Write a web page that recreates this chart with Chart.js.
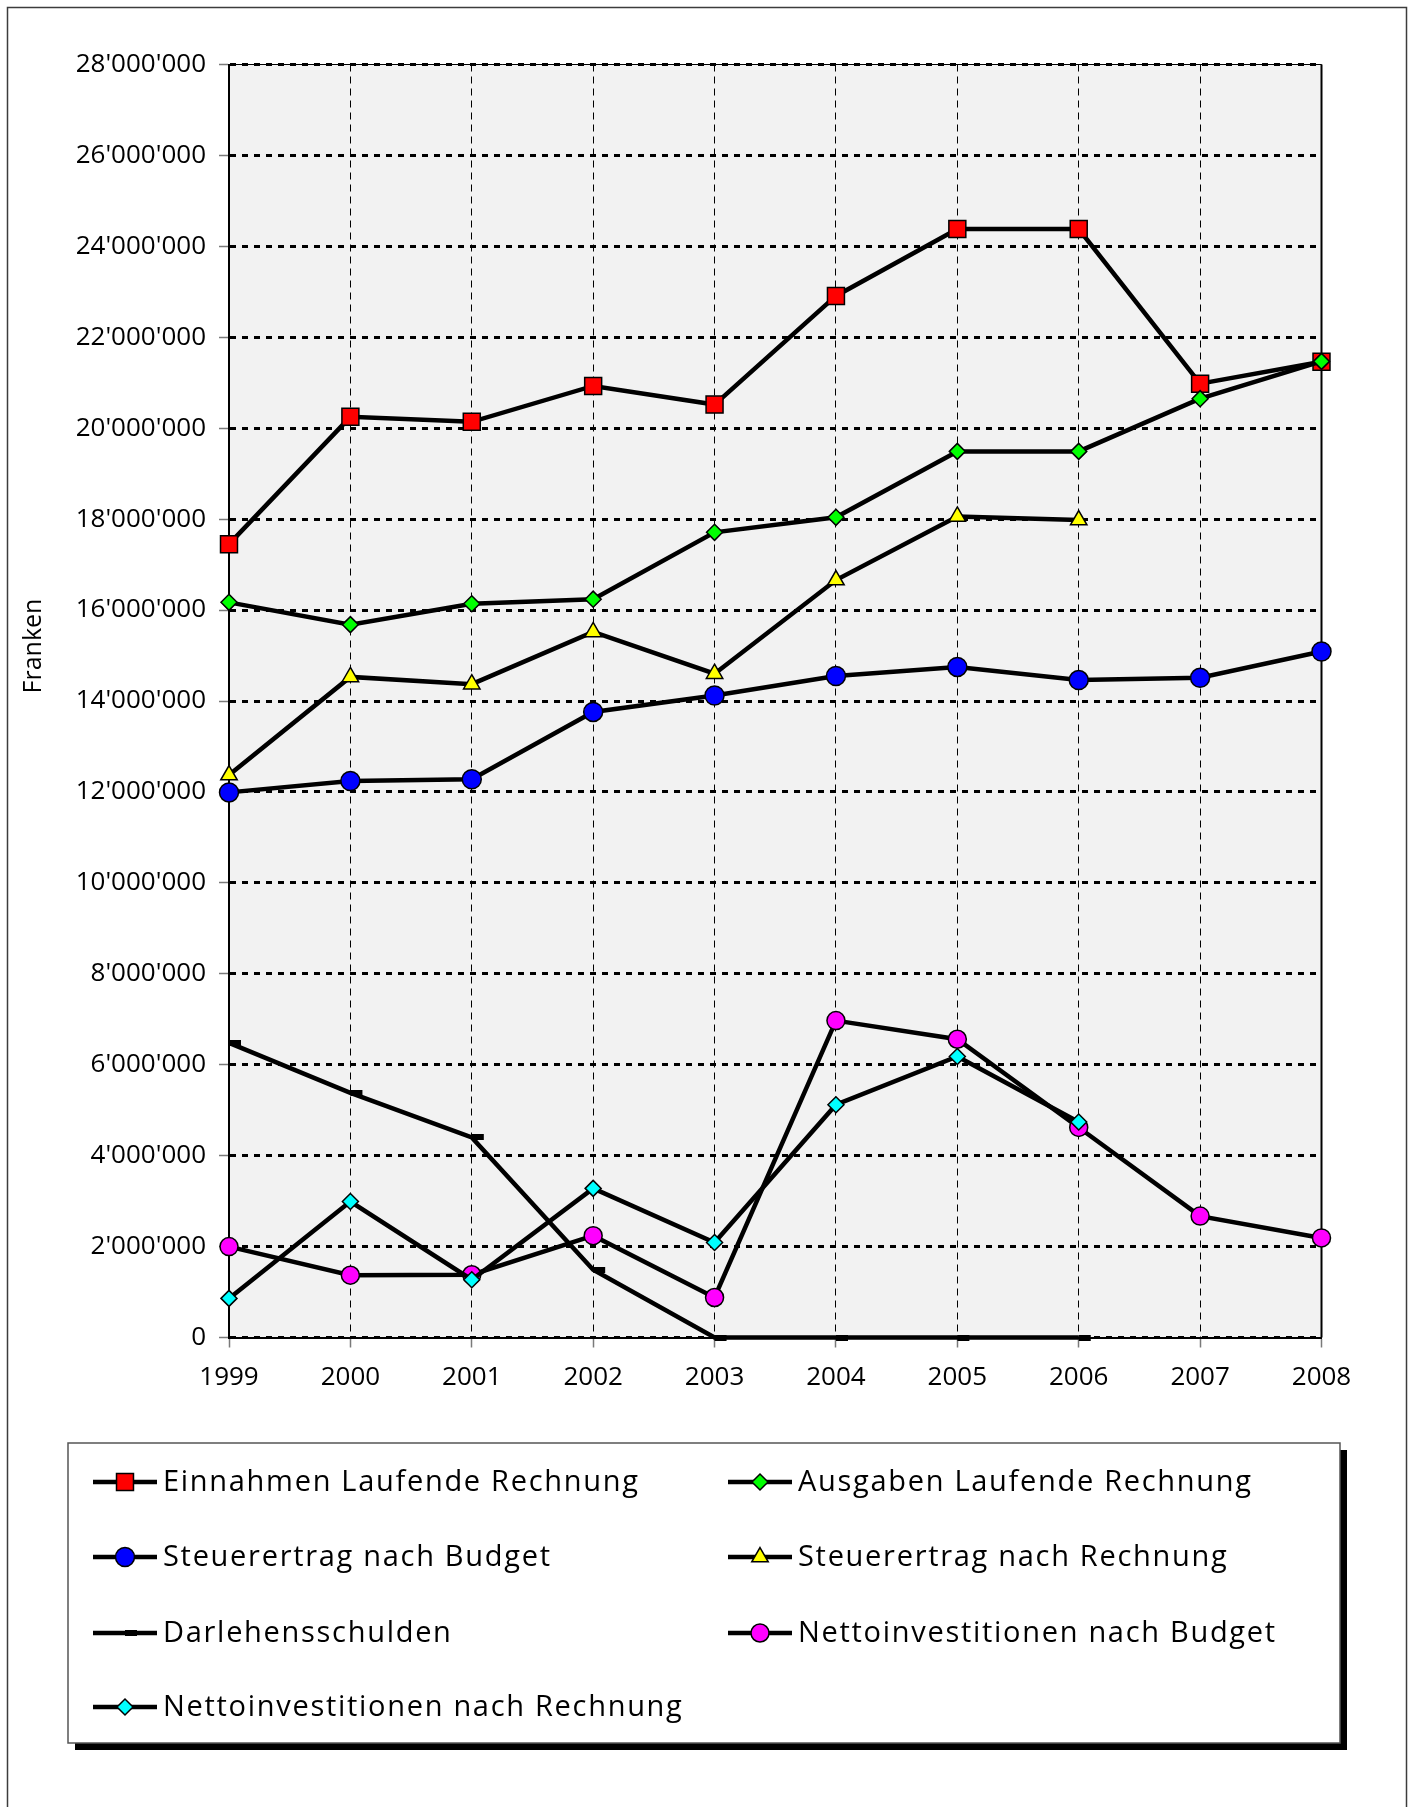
<!DOCTYPE html>
<html>
<head>
<meta charset="utf-8">
<title>Finanzen 1999–2008</title>
<script src="https://cdn.jsdelivr.net/npm/chart.js@4.4.1/dist/chart.umd.min.js"></script>
<style>
  html, body { margin: 0; padding: 0; background: #fff; }
  #wrap { position: relative; width: 1417px; height: 1807px; }
  canvas { display: block; }
</style>
</head>
<body>
<div id="wrap"><canvas id="chartFinanzen" width="1417" height="1807"></canvas></div>
<script>
'use strict';

// ─── DATEN ───────────────────────────────────────────────────

const YEARS = ['1999', '2000', '2001', '2002', '2003', '2004', '2005', '2006', '2007', '2008'];

const EINNAHMEN_LR      = [17450000, 20250000, 20140000, 20930000, 20520000, 22910000, 24380000, 24380000, 20980000, 21460000];
const AUSGABEN_LR       = [16170000, 15680000, 16140000, 16240000, 17710000, 18040000, 19490000, 19490000, 20650000, 21470000];
const STEUER_BUDGET     = [11990000, 12240000, 12280000, 13760000, 14120000, 14550000, 14750000, 14460000, 14510000, 15090000];
const STEUER_RECHNUNG   = [12370000, 14530000, 14370000, 15520000, 14600000, 16660000, 18060000, 17980000, null, null];
const DARLEHENSSCHULDEN = [6480000, 5380000, 4400000, 1490000, 0, 0, 0, 0, null, null];
const NETTOINV_BUDGET   = [2000000, 1370000, 1380000, 2240000, 880000, 6970000, 6560000, 4620000, 2670000, 2190000];
const NETTOINV_RECHNUNG = [860000, 2990000, 1270000, 3280000, 2090000, 5120000, 6180000, 4740000, null, null];

const Y_MIN = 0;
const Y_MAX = 28000000;
const Y_STEP = 2000000;
const Y_TITLE = 'Franken';

// ─── HILFSFUNKTIONEN ─────────────────────────────────────────

function fmtFranken(v) {
  return String(v).replace(/\B(?=(\d{3})+(?!\d))/g, "'");
}

// Strich-Marker (wie in Excel: beginnt am Punkt, zeigt nach rechts)
function dashMarker() {
  const c = document.createElement('canvas');
  c.width = 26;
  c.height = 6;
  const g = c.getContext('2d');
  g.fillStyle = '#000';
  g.fillRect(13, 0, 12, 6);
  return c;
}

function series(label, data, style, color, radius, i) {
  return {
    label,
    data,
    order: -i,
    borderColor: '#000',
    borderWidth: 4.5,
    pointStyle: style,
    pointRadius: radius,
    pointHoverRadius: radius,
    pointBackgroundColor: color,
    pointBorderColor: '#000',
    pointBorderWidth: 1.5,
    tension: 0,
    spanGaps: false,
    clip: false
  };
}

// ─── PLUGINS ─────────────────────────────────────────────────

const plotFrame = {
  id: 'plotFrame',
  beforeDraw(chart) {
    const { ctx, chartArea: a } = chart;
    ctx.save();
    ctx.fillStyle = '#ffffff';
    ctx.fillRect(0, 0, chart.width, chart.height);
    ctx.strokeStyle = '#3c3c3c';
    ctx.lineWidth = 1.5;
    ctx.strokeRect(7.5, 7.5, 1399, 1840);
    ctx.fillStyle = '#f2f2f2';
    ctx.fillRect(a.left, a.top, a.right - a.left, a.bottom - a.top);
    ctx.restore();
  },
  beforeDatasetsDraw(chart) {
    const { ctx, chartArea: a } = chart;
    ctx.save();
    ctx.strokeStyle = '#000';
    ctx.lineWidth = 2;
    ctx.beginPath();
    ctx.moveTo(a.right, a.top);
    ctx.lineTo(a.right, a.bottom);
    ctx.stroke();
    ctx.lineWidth = 1;
    ctx.beginPath();
    ctx.moveTo(a.left, a.top);
    ctx.lineTo(a.right, a.top);
    ctx.stroke();
    ctx.restore();
  },
  afterDraw(chart) {
    // Achsentitel etwas oberhalb der Mitte, wie im Original
    const { ctx } = chart;
    ctx.save();
    ctx.translate(34, 646);
    ctx.rotate(-Math.PI / 2);
    ctx.font = "25px 'Open Sans', sans-serif";
    ctx.fillStyle = '#000';
    ctx.textAlign = 'center';
    ctx.textBaseline = 'middle';
    ctx.fillText(Y_TITLE, 0, 0);
    ctx.restore();
  }
};

const boxLegend = {
  id: 'boxLegend',
  afterDraw(chart) {
    const { ctx } = chart;
    const box = { x: 68, y: 1443, w: 1272, h: 300 };
    const cols = [93, 728];
    const rows = [1482, 1557, 1633, 1707];

    ctx.save();
    ctx.fillStyle = '#000';
    ctx.fillRect(box.x + 7, box.y + 7, box.w, box.h);
    ctx.fillStyle = '#fff';
    ctx.fillRect(box.x, box.y, box.w, box.h);
    ctx.strokeStyle = '#555';
    ctx.lineWidth = 1.5;
    ctx.strokeRect(box.x, box.y, box.w, box.h);

    ctx.font = "29px 'Open Sans', sans-serif";
    ctx.textBaseline = 'middle';
    ctx.textAlign = 'left';
    if ('letterSpacing' in ctx) ctx.letterSpacing = '1.7px';

    chart.data.datasets.forEach((ds, i) => {
      const x0 = cols[i % 2];
      const y = rows[Math.floor(i / 2)];
      ctx.strokeStyle = '#000';
      ctx.lineWidth = 4.5;
      ctx.beginPath();
      ctx.moveTo(x0, y);
      ctx.lineTo(x0 + 64, y);
      ctx.stroke();

      ctx.fillStyle = ds.pointBackgroundColor;
      ctx.strokeStyle = ds.pointBorderColor;
      ctx.lineWidth = ds.pointBorderWidth;
      Chart.helpers.drawPoint(ctx, {
        pointStyle: ds.pointStyle,
        radius: ds.pointRadius,
        rotation: 0,
        borderWidth: ds.pointBorderWidth
      }, x0 + 32, y);

      ctx.fillStyle = '#000';
      ctx.fillText(ds.label, x0 + 70, y + 1);
    });
    ctx.restore();
  }
};

// ─── CHART ───────────────────────────────────────────────────

Chart.defaults.font.family = "'Open Sans', sans-serif";
Chart.defaults.color = '#000';

const datasets = [
  series('Einnahmen Laufende Rechnung', EINNAHMEN_LR, 'rect', '#ff0000', 12, 0),
  series('Ausgaben Laufende Rechnung', AUSGABEN_LR, 'rectRot', '#00ff00', 8, 1),
  series('Steuerertrag nach Budget', STEUER_BUDGET, 'circle', '#0000ff', 9.5, 2),
  series('Steuerertrag nach Rechnung', STEUER_RECHNUNG, 'triangle', '#ffff00', 9.5, 3),
  series('Darlehensschulden', DARLEHENSSCHULDEN, dashMarker(), '#000000', 6, 4),
  series('Nettoinvestitionen nach Budget', NETTOINV_BUDGET, 'circle', '#ff00ff', 9, 5),
  series('Nettoinvestitionen nach Rechnung', NETTOINV_RECHNUNG, 'rectRot', '#00ffff', 8, 6)
];

new Chart(document.getElementById('chartFinanzen'), {
  type: 'line',
  data: { labels: YEARS, datasets },
  options: {
    responsive: false,
    animation: false,
    events: [],
    layout: { padding: { left: 0, top: 64.5, right: 95.5, bottom: 409.5 } },
    plugins: {
      legend: { display: false },
      tooltip: { enabled: false }
    },
    scales: {
      x: {
        type: 'category',
        offset: false,
        afterFit: s => { s.height = 60; },
        grid: {
          offset: false,
          color: '#000',
          lineWidth: 1,
          tickLength: 10,
          tickColor: '#7a7a7a',
          tickWidth: 1.5
        },
        border: { display: true, color: '#000', width: 2, dash: [7, 5] },
        ticks: {
          autoSkip: false,
          maxRotation: 0,
          padding: 14,
          font: { size: 26 }
        }
      },
      y: {
        min: Y_MIN,
        max: Y_MAX,
        afterFit: s => { s.width = 229; },
        grid: {
          color: '#000',
          lineWidth: 3,
          tickLength: 10,
          tickColor: '#7a7a7a',
          tickWidth: 1.5
        },
        border: { display: true, color: '#000', width: 2, dash: [6, 6] },
        ticks: {
          stepSize: Y_STEP,
          autoSkip: false,
          padding: 13,
          font: { size: 26 },
          callback: v => fmtFranken(v)
        }
      }
    }
  },
  plugins: [plotFrame, boxLegend]
});
</script>
</body>
</html>
